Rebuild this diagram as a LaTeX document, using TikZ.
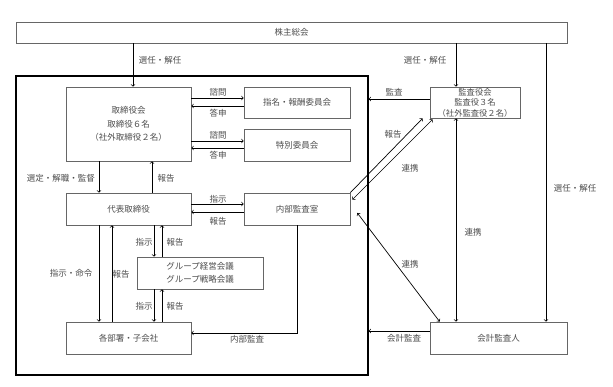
\documentclass[tikz,border=0pt]{standalone}
\usepackage{fontspec}
\setmainfont{Noto Sans CJK JP}
\begin{document}
\begin{tikzpicture}[x=1pt, y=-1pt,
    box/.style={draw=black!60, line width=0.7pt, text=black!70, align=center, inner sep=0pt, font=\fontsize{8.5}{13.5}\selectfont},
    lab/.style={text=black!70, inner sep=0pt, font=\fontsize{8.5}{11}\selectfont},
    arr/.style={->, line width=0.7pt},
    both/.style={<->, line width=0.7pt}]
    \useasboundingbox (0,0) rectangle (613,387);
    \node[draw, line width=1.1pt, minimum width=352pt, minimum height=299pt, inner sep=0pt] (kaisha) at (192,225.5) {};
    \node[box, minimum width=551pt, minimum height=21pt] (soukai) at (291.5,32.5) {株主総会};
    \node[box, minimum width=125pt, minimum height=74pt] (torishimari) at (128.5,124) {取締役会\\取締役６名\\（社外取締役２名）};
    \node[box, minimum width=106pt, minimum height=31pt] (shimei) at (297,102.5) {指名・報酬委員会};
    \node[box, minimum width=106pt, minimum height=32pt] (tokubetsu) at (297,145) {特別委員会};
    \node[box, minimum width=125pt, minimum height=32pt] (daihyo) at (128.5,209) {代表取締役};
    \node[box, minimum width=106pt, minimum height=32pt] (naibu) at (297,209) {内部監査室};
    \node[box, minimum width=126pt, minimum height=32pt] (group) at (200,273) {グループ経営会議\\グループ戦略会議};
    \node[box, minimum width=125pt, minimum height=32pt] (busho) at (128.5,338) {各部署・子会社};
    \node[box, minimum width=90pt, minimum height=31pt, font=\fontsize{8.3}{10.5}\selectfont] (kansayaku) at (475,102.5) {監査役会\\監査役３名\\（社外監査役２名）};
    \node[box, minimum width=137pt, minimum height=32pt] (kaikei) at (498.5,338) {会計監査人};
    \foreach \x/\y/\lx/\ly in {133/torishimari/160/60, 456/kansayaku/425/60, 546/kaikei/575/188} {
        \draw[arr] (soukai.south -| \x,0) -- (\y.north -| \x,0);
        \node[lab] (sennin-\y) at (\lx,\ly) {選任・解任};
    }
    \foreach \com/\ya/\yb in {shimei/98/106, tokubetsu/141/148} {
        \draw[arr] (torishimari.east |- 0,\ya) -- (\com.west |- 0,\ya);
        \draw[arr] (\com.west |- 0,\yb) -- (torishimari.east |- 0,\yb);
        \node[lab, above=2pt] (shimon-\com) at (218,\ya) {諮問};
        \node[lab, below=3pt] (toushin-\com) at (218,\yb) {答申};
    }
    \draw[arr] (torishimari.south -| 99,0) -- (daihyo.north -| 99,0);
    \draw[arr] (daihyo.north -| 152,0) -- (torishimari.south -| 152,0);
    \node[lab] (sentei) at (61,178) {選定・解職・監督};
    \node[lab] (houkoku-dt) at (166,178) {報告};
    \draw[arr] (daihyo.east |- 0,204) -- (naibu.west |- 0,204);
    \draw[arr] (naibu.west |- 0,212) -- (daihyo.east |- 0,212);
    \node[lab] (shiji-nb) at (218,199) {指示};
    \node[lab] (houkoku-nb) at (218,221) {報告};
    \foreach \ya/\yb/\yl in {daihyo/group/242, group/busho/306} {
        \draw[arr] (\ya.south -| 154,0) -- (\yb.north -| 154,0);
        \draw[arr] (\yb.north -| 162,0) -- (\ya.south -| 162,0);
        \node[lab] (shiji-\ya) at (144,\yl) {指示};
        \node[lab] (houkoku-\ya) at (175,\yl) {報告};
    }
    \draw[arr] (daihyo.south -| 99,0) -- (busho.north -| 99,0);
    \draw[arr] (busho.north -| 112,0) -- (daihyo.south -| 112,0);
    \node[lab] (meirei) at (71,273) {指示・命令};
    \node[lab] (houkoku-bs) at (121,274) {報告};
    \draw[arr] (naibu.south -| 297,0) |- (busho.east |- 0,333);
    \node[lab] (naibukansa) at (247,339) {内部監査};
    \draw[arr] (kansayaku.west |- 0,99) -- (kaisha.east |- 0,99);
    \node[lab] (kansa) at (394,92) {監査};
    \draw[arr] (naibu.north east) -- ([xshift=-7pt]kansayaku.south west);
    \draw[both] ([xshift=2pt,yshift=-7pt]naibu.north east) -- ([xshift=3pt,yshift=-1pt]kansayaku.south west);
    \node[lab] (houkoku-ks) at (393,134) {報告};
    \node[lab] (renkei-ks) at (410,168) {連携};
    \draw[both] (kansayaku.south -| 456,0) -- (kaikei.north -| 456,0);
    \node[lab] (renkei-kk) at (473,232) {連携};
    \draw[both] ([xshift=7pt,yshift=-4pt]naibu.east) -- ([xshift=10pt]kaikei.north west);
    \node[lab] (renkei-nb) at (410,264) {連携};
    \draw[arr] (kaikei.west |- 0,331) -- (kaisha.east |- 0,331);
    \node[lab] (kaikeikansa) at (404,338) {会計監査};
\end{tikzpicture}
\end{document}
